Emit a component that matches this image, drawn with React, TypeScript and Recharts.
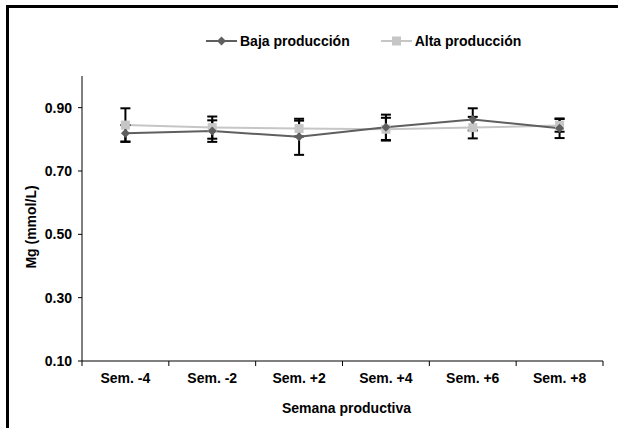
import React from 'react';
import { LineChart, Line, XAxis, YAxis, ErrorBar, Legend } from 'recharts';

const weeks = ['Sem. -4', 'Sem. -2', 'Sem. +2', 'Sem. +4', 'Sem. +6', 'Sem. +8'];
const baja = [0.819, 0.826, 0.808, 0.838, 0.863, 0.835];
const bajaErr = [0.026, 0.034, 0.057, 0.04, 0.035, 0.031];
const alta = [0.845, 0.837, 0.834, 0.832, 0.837, 0.844];
const altaErr = [0.053, 0.035, 0.025, 0.036, 0.034, 0.02];
const yTicks = [0.1, 0.3, 0.5, 0.7, 0.9];

const BAJA_COLOR = '#5f5f5f';
const ALTA_COLOR = '#c6c6c6';
const FONT = '"Liberation Sans", Arial, sans-serif';
const FS = 14;
const TICK_GAP = 12;

const data = weeks.map((w, i) => ({
  x: i + 0.5,
  week: w,
  baja: baja[i],
  bajaErr: bajaErr[i],
  alta: alta[i],
  altaErr: altaErr[i],
}));

const labelTicks = weeks.map((_, i) => i + 0.5);

const Diamond = (props: any) => {
  const { cx, cy, fill } = props;
  if (cx == null || cy == null) return null;
  return <path d={`M${cx},${cy - 4.5} L${cx + 4.5},${cy} L${cx},${cy + 4.5} L${cx - 4.5},${cy} Z`} fill={fill} />;
};

const Square = (props: any) => {
  const { cx, cy, fill } = props;
  if (cx == null || cy == null) return null;
  return <rect x={cx - 4.5} y={cy - 4.5} width={9} height={9} fill={fill} />;
};

// category label at the centre, tick marks at the category boundaries (Excel style)
const WeekTick = (props: any) => {
  const { x, y, index, payload, width } = props;
  const hb = (Number(width) || 521) / (weeks.length * 2);
  const axisY = y - TICK_GAP;
  const last = index === weeks.length - 1;
  return (
    <g>
      <line x1={x - hb} y1={axisY} x2={x - hb} y2={axisY + 5} stroke="#000" />
      {last && <line x1={x + hb} y1={axisY} x2={x + hb} y2={axisY + 5} stroke="#000" />}
      <text
        x={x}
        y={y}
        dy="0.71em"
        textAnchor="middle"
        fill="#000"
        style={{ fontFamily: FONT, fontWeight: 'bold', fontSize: FS }}
      >
        {weeks[Math.floor(payload.value)]}
      </text>
    </g>
  );
};

const legendItems = [
  { name: 'Baja producción', color: BAJA_COLOR, marker: 'diamond' },
  { name: 'Alta producción', color: ALTA_COLOR, marker: 'square' },
];

const renderLegend = () => (
  <div
    style={{
      display: 'flex',
      alignItems: 'center',
      height: 20,
      whiteSpace: 'nowrap',
      fontFamily: FONT,
      fontWeight: 'bold',
      fontSize: FS,
    }}
  >
    {legendItems.map((it, i) => (
      <div key={it.name} style={{ display: 'flex', alignItems: 'center', flexShrink: 0, marginRight: i === 0 ? 31 : 0 }}>
        <svg width={31} height={12} style={{ marginRight: 3, flexShrink: 0 }}>
          <line x1={0} y1={6} x2={31} y2={6} stroke={it.color} strokeWidth={2} />
          {it.marker === 'diamond' ? (
            <path d="M15.5,1.5 L20,6 L15.5,10.5 L11,6 Z" fill={it.color} />
          ) : (
            <rect x={11} y={1.5} width={9} height={9} fill={it.color} />
          )}
        </svg>
        <span>{it.name}</span>
      </div>
    ))}
  </div>
);

const App: React.FC = () => {
  return (
    <div style={{ position: 'absolute', left: 0, top: 0, width: 618, height: 428, overflow: 'hidden', background: '#fff' }}>
      <div
        style={{
          position: 'absolute',
          left: 6,
          top: 5,
          width: 650,
          height: 460,
          border: '3px solid #000',
        }}
      />
      <div style={{ position: 'absolute', left: 0, top: 0 }}>
        <LineChart width={618} height={428} data={data} margin={{ top: 56, right: 15, left: 0, bottom: 0 }}>
          <Legend
            verticalAlign="top"
            align="left"
            content={renderLegend}
            wrapperStyle={{ top: 31, left: 206, width: 400, height: 20 }}
          />
          <XAxis
            dataKey="x"
            type="number"
            domain={[0, 6]}
            ticks={labelTicks}
            interval={0}
            axisLine={{ stroke: '#000', strokeWidth: 1 }}
            tickLine={false}
            tickSize={0}
            tickMargin={TICK_GAP}
            height={67}
            tick={<WeekTick />}
            label={{
              value: 'Semana productiva',
              position: 'insideBottom',
              offset: 15,
              dx: 4,
              fill: '#000',
              fontFamily: FONT,
              fontWeight: 'bold',
              fontSize: FS,
            }}
          />
          <YAxis
            type="number"
            domain={[0.1, 1.0]}
            ticks={yTicks}
            interval={0}
            tickFormatter={(v: number) => v.toFixed(2)}
            width={82}
            tickSize={4}
            tickMargin={6}
            axisLine={{ stroke: '#000', strokeWidth: 1 }}
            tickLine={{ stroke: '#000' }}
            tick={{ fill: '#000', fontFamily: FONT, fontWeight: 'bold', fontSize: FS }}
            label={{
              content: () => (
                <text
                  x={31}
                  y={227}
                  transform="rotate(-90 31 227)"
                  textAnchor="middle"
                  dominantBaseline="central"
                  fill="#000"
                  style={{ fontFamily: FONT, fontWeight: 'bold', fontSize: FS }}
                >
                  Mg (mmol/L)
                </text>
              ),
            }}
          />
          <Line
            dataKey="alta"
            name="Alta producción"
            stroke={ALTA_COLOR}
            strokeWidth={2}
            fill={ALTA_COLOR}
            dot={<Square fill={ALTA_COLOR} />}
            activeDot={false}
            isAnimationActive={false}
          >
            <ErrorBar dataKey="altaErr" width={5} stroke="#000" strokeWidth={2} direction="y" />
          </Line>
          <Line
            dataKey="baja"
            name="Baja producción"
            stroke={BAJA_COLOR}
            strokeWidth={2}
            fill={BAJA_COLOR}
            dot={<Diamond fill={BAJA_COLOR} />}
            activeDot={false}
            isAnimationActive={false}
          >
            <ErrorBar dataKey="bajaErr" width={5} stroke="#000" strokeWidth={2} direction="y" />
          </Line>
        </LineChart>
      </div>
    </div>
  );
};

export default App;
